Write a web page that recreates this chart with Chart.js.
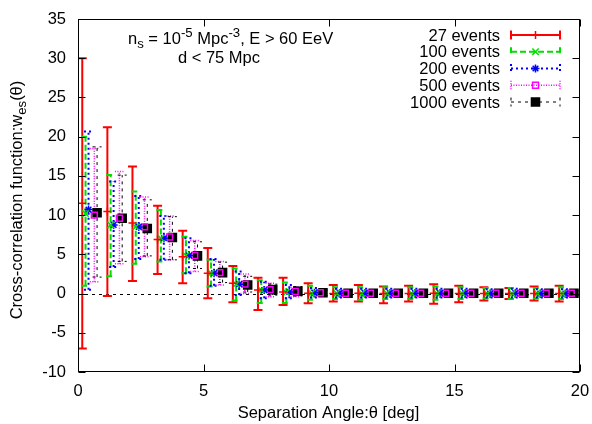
<!DOCTYPE html>
<html>
<head>
<meta charset="utf-8">
<script src="https://cdn.jsdelivr.net/npm/chart.js@4.4.1/dist/chart.umd.min.js"></script>
<style>
  html, body { margin: 0; padding: 0; background: #fff; }
</style>
</head>
<body>
<canvas id="c" width="592" height="424"></canvas>
<script>
// Cross-correlation w_es(theta) per angular bin, for 5 sample sizes
// each series: central value + lower / upper end of the error bar

const BIN_START = [0, 1, 2, 3, 4, 5, 6, 7, 8, 9, 10, 11, 12, 13, 14, 15, 16, 17, 18, 19];
const SERIES_SHIFT = [0.17, 0.30, 0.42, 0.65, 0.76]; // small x offset so bars do not overlap

const LABELS = ['27 events', '100 events', '200 events', '500 events', '1000 events'];

const W27  = [11.5, 10.45, 9.0, 6.9, 4.7, 2.6, 1.3, 0.45, 0.2, 0.05, 0.0, 0.05, 0.0, 0.0, 0.05, 0.0, 0.0, 0.0, 0.0, 0.0];
const LO27 = [-7.0, -0.3, 1.6, 2.5, 1.3, -0.6, -1.1, -2.1, -1.45, -1.25, -1.0, -1.0, -1.25, -1.0, -1.3, -1.1, -0.9, -0.7, -0.9, -1.0];
const HI27 = [30.0, 21.2, 16.2, 11.2, 8.0, 5.8, 3.5, 2.0, 2.0, 1.3, 1.1, 1.1, 0.9, 1.0, 1.2, 1.0, 0.8, 0.7, 0.9, 1.0];

const W100  = [10.2, 8.75, 8.5, 7.05, 4.85, 2.6, 1.2, 0.45, 0.15, 0.05, 0.05, 0.0, 0.05, 0.0, 0.0, 0.05, 0.0, 0.0, 0.0, 0.0];
const LO100 = [1.0, 2.2, 3.8, 4.1, 2.6, 0.9, -0.9, -1.2, -1.2, -0.8, -0.7, -0.8, -0.7, -0.7, -0.8, -0.7, -0.6, -0.7, -0.6, -0.7];
const HI100 = [20.0, 15.1, 13.0, 10.65, 7.25, 4.3, 3.2, 1.7, 1.4, 1.0, 0.8, 0.8, 0.8, 0.8, 0.9, 0.8, 0.7, 0.7, 0.7, 0.8];

const W200  = [10.7, 8.75, 8.5, 7.05, 4.85, 2.6, 1.2, 0.45, 0.2, 0.1, 0.05, 0.05, 0.05, 0.05, 0.05, 0.05, 0.0, 0.05, 0.0, 0.0];
const LO200 = [0.5, 3.4, 4.4, 4.3, 2.6, 1.0, -0.2, -0.6, -0.6, -0.5, -0.5, -0.5, -0.5, -0.5, -0.5, -0.5, -0.5, -0.5, -0.5, -0.5];
const HI200 = [20.65, 14.3, 12.45, 9.9, 7.05, 4.4, 2.8, 1.5, 1.1, 0.7, 0.6, 0.6, 0.6, 0.6, 0.6, 0.6, 0.55, 0.6, 0.55, 0.55];

const W500  = [10.0, 9.6, 8.5, 7.2, 4.85, 2.67, 1.2, 0.5, 0.25, 0.1, 0.05, 0.05, 0.05, 0.05, 0.05, 0.05, 0.05, 0.05, 0.05, 0.05];
const LO500 = [1.5, 3.8, 4.7, 4.3, 2.8, 1.1, 0.0, -0.4, -0.4, -0.3, -0.3, -0.3, -0.3, -0.3, -0.3, -0.3, -0.3, -0.3, -0.3, -0.3];
const HI500 = [18.5, 15.55, 12.3, 9.9, 6.75, 4.1, 2.5, 1.3, 0.8, 0.5, 0.4, 0.4, 0.4, 0.4, 0.4, 0.4, 0.4, 0.4, 0.4, 0.4];

const W1000  = [10.3, 9.6, 8.3, 7.15, 4.8, 2.67, 1.1, 0.5, 0.3, 0.1, 0.05, 0.05, 0.05, 0.05, 0.05, 0.05, 0.05, 0.05, 0.05, 0.05];
const LO1000 = [2.1, 4.1, 4.8, 4.3, 3.2, 1.4, 0.2, -0.2, -0.3, -0.25, -0.25, -0.25, -0.25, -0.25, -0.25, -0.25, -0.25, -0.25, -0.25, -0.25];
const HI1000 = [18.7, 15.1, 11.95, 9.8, 6.6, 4.0, 2.2, 1.2, 0.9, 0.4, 0.35, 0.35, 0.35, 0.35, 0.35, 0.35, 0.35, 0.35, 0.35, 0.35];

const X_TICKS = [0, 5, 10, 15, 20];
const Y_TICKS = [-10, -5, 0, 5, 10, 15, 20, 25, 30, 35];

const FONT = '"Liberation Sans", Arial, Helvetica, sans-serif';
const FS = 16.5;
const CAP = 4.5; // half width of the error bar caps

// style of each series (gnuplot-like line types)
const STYLES = [
  { color: '#ff0000', width: 2,   dash: [],       point: 'cross',    r: 4,   fill: 'transparent' },
  { color: '#00dd00', width: 2,   dash: [6, 3],   point: 'crossRot', r: 4.5, fill: 'transparent' },
  { color: '#0000ff', width: 2,   dash: [2, 3],   point: 'star',     r: 4,   fill: 'transparent' },
  { color: '#ff00ff', width: 1.5, dash: [1, 1.5], point: 'rect',     r: 4.2, fill: 'transparent' },
  { color: '#000000', width: 1,   dash: [3, 4],   point: 'rect',     r: 5.7, fill: '#000000' },
];

const SERIES = [
  [W27, LO27, HI27],
  [W100, LO100, HI100],
  [W200, LO200, HI200],
  [W500, LO500, HI500],
  [W1000, LO1000, HI1000],
];

function buildPoints(i) {
  const [w, lo, hi] = SERIES[i];
  return BIN_START.map((b, k) => ({ x: b + SERIES_SHIFT[i], y: w[k], lo: lo[k], hi: hi[k] }));
}

// draws a string made of pieces, some of them sub- or superscript
function richWidth(ctx, parts, size) {
  let w = 0;
  parts.forEach(([t, kind]) => {
    ctx.font = (kind ? size * 0.8 : size) + 'px ' + FONT;
    w += ctx.measureText(t).width;
  });
  return w;
}
function drawRich(ctx, parts, x, y, size) {
  parts.forEach(([t, kind]) => {
    const s = kind ? size * 0.8 : size;
    ctx.font = s + 'px ' + FONT;
    let dy = 0;
    if (kind === 'sub') dy = size * 0.25;
    if (kind === 'sup') dy = -size * 0.4;
    ctx.fillText(t, x, y + dy);
    x += ctx.measureText(t).width;
  });
}

function strokeBar(ctx, px, top, bot) {
  ctx.beginPath();
  ctx.moveTo(px, bot); ctx.lineTo(px, top);
  ctx.moveTo(px - CAP, top); ctx.lineTo(px + CAP, top);
  ctx.moveTo(px - CAP, bot); ctx.lineTo(px + CAP, bot);
  ctx.stroke();
}

const errorBars = {
  id: 'errorBars',
  beforeDatasetsDraw(chart) {
    const { ctx, chartArea: a, scales: { x, y } } = chart;
    ctx.save();
    ctx.beginPath();
    ctx.rect(a.left, a.top, a.right - a.left, a.bottom - a.top);
    ctx.clip();

    // dashed zero axis
    const y0 = Math.round(y.getPixelForValue(0)) + 0.5;
    ctx.strokeStyle = '#000';
    ctx.lineWidth = 1;
    ctx.setLineDash([3, 4]);
    ctx.beginPath();
    ctx.moveTo(a.left, y0);
    ctx.lineTo(a.right, y0);
    ctx.stroke();

    chart.data.datasets.forEach((ds, i) => {
      const st = STYLES[i];
      ctx.strokeStyle = st.color;
      ctx.lineWidth = st.width;
      ctx.setLineDash(st.dash);
      ds.data.forEach(p => {
        const px = x.getPixelForValue(p.x);
        strokeBar(ctx, px, y.getPixelForValue(p.hi), y.getPixelForValue(p.lo));
      });
    });
    ctx.restore();
  },
  afterDraw(chart) {
    const { ctx, chartArea: a, scales: { x, y } } = chart;
    ctx.save();

    // border + inward tics on all sides
    ctx.strokeStyle = '#000';
    ctx.lineWidth = 1;
    ctx.setLineDash([]);
    const L = a.left + 0.5, R = a.right - 0.5, T = a.top + 0.5, B = a.bottom - 0.5;
    ctx.strokeRect(L, T, R - L, B - T);
    ctx.beginPath();
    Y_TICKS.forEach(v => {
      const py = Math.round(y.getPixelForValue(v)) + 0.5;
      ctx.moveTo(L, py); ctx.lineTo(L + 7, py);
      ctx.moveTo(R, py); ctx.lineTo(R - 7, py);
    });
    X_TICKS.forEach(v => {
      const px = Math.round(x.getPixelForValue(v)) + 0.5;
      ctx.moveTo(px, B); ctx.lineTo(px, B - 7);
      ctx.moveTo(px, T); ctx.lineTo(px, T + 7);
    });
    ctx.stroke();

    ctx.fillStyle = '#000';
    ctx.textBaseline = 'alphabetic';

    // label in the top left
    drawRich(ctx, [['n'], ['s', 'sub'], [' = 10'], ['-5', 'sup'], [' Mpc'], ['-3', 'sup'], [', E > 60 EeV']], 128, 44, FS);
    ctx.font = FS + 'px ' + FONT;
    ctx.textAlign = 'center';
    ctx.fillText('d < 75 Mpc', 219, 63);

    // x title
    ctx.fillText('Separation Angle:\u03b8 [deg]', 328.5, 418);

    // y title (rotated)
    ctx.save();
    ctx.translate(22, 200);
    ctx.rotate(-Math.PI / 2);
    ctx.textAlign = 'left';
    const yParts = [['Cross-correlation function:w'], ['es', 'sub'], ['(\u03b8)']];
    drawRich(ctx, yParts, -richWidth(ctx, yParts, FS) / 2, 0, FS);
    ctx.restore();

    // key
    ctx.textAlign = 'right';
    chart.data.datasets.forEach((ds, i) => {
      const st = STYLES[i];
      const ry = 35 + i * 16.75;
      ctx.font = FS + 'px ' + FONT;
      ctx.fillStyle = '#000';
      ctx.textBaseline = 'middle';
      ctx.fillText(ds.label, 500, ry + 1);
      ctx.strokeStyle = st.color;
      ctx.lineWidth = st.width;
      ctx.setLineDash(st.dash);
      ctx.beginPath();
      ctx.moveTo(511, ry); ctx.lineTo(560, ry);
      ctx.moveTo(511, ry - CAP); ctx.lineTo(511, ry + CAP);
      ctx.moveTo(560, ry - CAP); ctx.lineTo(560, ry + CAP);
      ctx.stroke();
      ctx.setLineDash([]);
      ctx.lineWidth = 1.5;
      ctx.fillStyle = st.fill;
      Chart.helpers.drawPoint(ctx, { pointStyle: st.point, radius: st.r, borderWidth: 1.5, rotation: 0 }, 535.5, ry);
    });
    ctx.restore();
  }
};

const datasets = LABELS.map((label, i) => ({
  label,
  data: buildPoints(i),
  borderColor: STYLES[i].color,
  backgroundColor: STYLES[i].fill,
  pointStyle: STYLES[i].point,
  pointRadius: STYLES[i].r,
  pointBorderWidth: 1.5,
  pointBorderColor: STYLES[i].color,
  pointBackgroundColor: STYLES[i].fill,
  showLine: false,
}));

new Chart(document.getElementById('c'), {
  type: 'scatter',
  data: { datasets },
  plugins: [errorBars],
  options: {
    responsive: false,
    animation: false,
    layout: { padding: { top: 19, right: 12, left: 0, bottom: 0 } },
    plugins: { legend: { display: false }, tooltip: { enabled: false } },
    scales: {
      x: {
        type: 'linear', min: 0, max: 20,
        afterBuildTicks: s => { s.ticks = X_TICKS.map(v => ({ value: v })); },
        afterFit: s => { s.height = 52; s.paddingLeft = 0; s.paddingRight = 0; },
        ticks: { color: '#000', font: { family: FONT, size: FS }, padding: 10, maxRotation: 0 },
        grid: { display: false, drawTicks: false },
        border: { display: false },
      },
      y: {
        type: 'linear', min: -10, max: 35,
        afterBuildTicks: s => { s.ticks = Y_TICKS.map(v => ({ value: v })); },
        afterFit: s => { s.width = 78; s.paddingTop = 0; s.paddingBottom = 0; },
        ticks: { color: '#000', font: { family: FONT, size: FS }, padding: 12 },
        grid: { display: false, drawTicks: false },
        border: { display: false },
      },
    },
  },
});
</script>
</body>
</html>
